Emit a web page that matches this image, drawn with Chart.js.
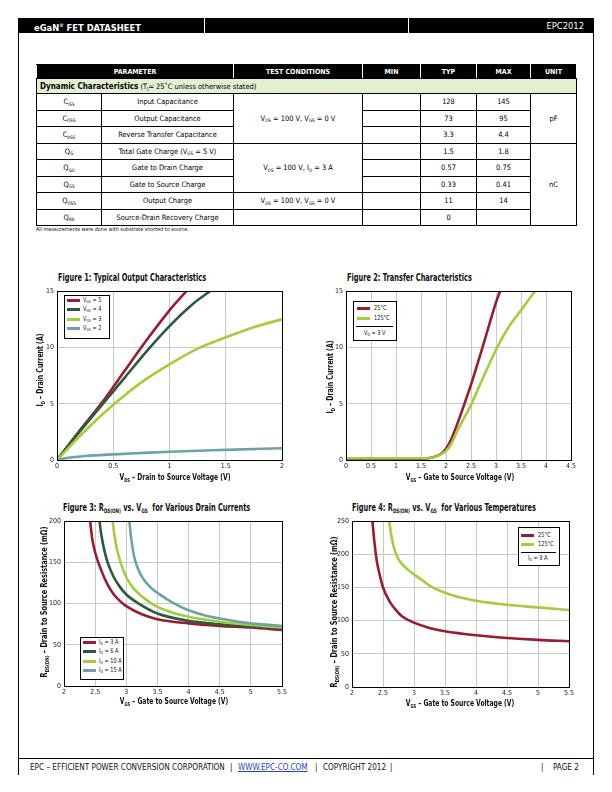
<!DOCTYPE html>
<html><head><meta charset="utf-8">
<script src="https://cdn.jsdelivr.net/npm/chart.js@4.4.1/dist/chart.umd.min.js"></script>
<style>
body{margin:0;width:612px;height:792px;position:relative;background:#fff;overflow:hidden;
 font-family:"Liberation Sans Narrow","DejaVu Sans Condensed","Arial Narrow",sans-serif;color:#111;
 -webkit-font-smoothing:antialiased}
.a{position:absolute;white-space:nowrap}
sub{font-size:62%;vertical-align:baseline;position:relative;top:0.3em}
canvas{position:absolute}
table{position:absolute;left:36px;top:64px;border-collapse:collapse;table-layout:fixed;width:540px;font-size:7.4px;color:#000}
td,th{border:0.8px solid #000;text-align:center;padding:0;overflow:hidden;white-space:nowrap;color:#000}
th{background:#000;color:#fff;font-weight:bold;font-size:7px;height:13px;border-left:1px solid #fff;border-right:1px solid #fff;border-top:0.8px solid #000;border-bottom:0.8px solid #000}
tr.g td{background:#e4eed3;text-align:left;padding-left:3px;height:14px}
tr.r td{height:15.5px}
.ft{font-weight:bold;font-size:9.8px;transform-origin:left center;transform:scaleX(0.75)}
.ax{font-weight:bold;font-size:8.6px}
.lg{position:absolute;border:1px solid #000;background:#fff}
.lr{position:absolute;font-size:6.8px;line-height:8px;white-space:nowrap;transform-origin:left center;transform:scaleX(0.82)}
.sw{position:absolute;height:3px}
.fo{position:absolute;top:762px;font-size:8.1px;line-height:11px;white-space:nowrap}
</style></head><body>

<!-- header -->
<div class="a" style="left:18px;top:18px;width:576px;height:15px;background:#000"></div>
<div class="a" style="left:204px;top:18px;width:1px;height:15px;background:#fff"></div>
<div class="a" style="left:408px;top:18px;width:1px;height:15px;background:#fff"></div>
<div class="a" style="left:34px;top:19px;line-height:13px;color:#fff;font-weight:bold;font-size:9.3px">eGaN<sup style="font-size:5px">®</sup> FET DATASHEET</div>
<div class="a" style="right:28px;top:19px;line-height:13px;color:#fff;font-size:9.3px">EPC2012</div>
<div class="a" style="left:18px;top:33px;width:1px;height:742px;background:#000"></div>
<div class="a" style="left:593px;top:33px;width:1px;height:742px;background:#000"></div>

<!-- table -->
<table>
<colgroup><col style="width:65px"><col style="width:132px"><col style="width:129px"><col style="width:58px"><col style="width:56px"><col style="width:54px"><col style="width:46px"></colgroup>
<tr><th colspan="2">PARAMETER</th><th>TEST CONDITIONS</th><th>MIN</th><th>TYP</th><th>MAX</th><th>UNIT</th></tr>
<tr class="g"><td colspan="7"><b style="font-size:8px">Dynamic Characteristics</b> (T<sub>J</sub>= 25˚C unless otherwise stated)</td></tr>
<tr class="r"><td>C<sub>ISS</sub></td><td>Input Capacitance</td><td rowspan="3">V<sub>DS</sub> = 100 V, V<sub>GS</sub> = 0 V</td><td></td><td>128</td><td>145</td><td rowspan="3">pF</td></tr>
<tr class="r"><td>C<sub>OSS</sub></td><td>Output Capacitance</td><td></td><td>73</td><td>95</td></tr>
<tr class="r"><td>C<sub>RSS</sub></td><td>Reverse Transfer Capacitance</td><td></td><td>3.3</td><td>4.4</td></tr>
<tr class="r"><td>Q<sub>G</sub></td><td>Total Gate Charge (V<sub>GS</sub> = 5 V)</td><td rowspan="3">V<sub>DS</sub> = 100 V, I<sub>D</sub> = 3 A</td><td></td><td>1.5</td><td>1.8</td><td rowspan="5">nC</td></tr>
<tr class="r"><td>Q<sub>GD</sub></td><td>Gate to Drain Charge</td><td></td><td>0.57</td><td>0.75</td></tr>
<tr class="r"><td>Q<sub>GS</sub></td><td>Gate to Source Charge</td><td></td><td>0.33</td><td>0.41</td></tr>
<tr class="r"><td>Q<sub>OSS</sub></td><td>Output Charge</td><td>V<sub>DS</sub> = 100 V, V<sub>GS</sub> = 0 V</td><td></td><td>11</td><td>14</td></tr>
<tr class="r"><td>Q<sub>RR</sub></td><td>Source-Drain Recovery Charge</td><td></td><td></td><td>0</td><td></td></tr>
</table>
<div class="a" style="left:36px;top:226px;font-size:5.4px;line-height:7px">All measurements were done with substrate shorted to source.</div>

<!-- figure titles -->
<div class="a ft" style="left:58px;top:272px">Figure 1: Typical Output Characteristics</div>
<div class="a ft" style="left:347px;top:272px">Figure 2: Transfer Characteristics</div>
<div class="a ft" style="left:63px;top:502px">Figure 3: R<sub>DS(ON)</sub> vs. V<sub>GS</sub>&nbsp; for Various Drain Currents</div>
<div class="a ft" style="left:352px;top:502px">Figure 4: R<sub>DS(ON)</sub> vs. V<sub>GS</sub>&nbsp; for Various Temperatures</div>

<canvas id="c1"></canvas><canvas id="c2"></canvas><canvas id="c3"></canvas><canvas id="c4"></canvas>

<!-- axis titles -->
<div class="a ax" style="left:40px;top:370px;transform:translate(-50%,-50%) rotate(-90deg) scaleX(0.8)">I<sub>D</sub> – Drain Current (A)</div>
<div class="a ax" style="left:175px;top:477px;transform:translate(-50%,-50%) scaleX(0.78)">V<sub>DS</sub> – Drain to Source Voltage (V)</div>
<div class="a ax" style="left:330px;top:377px;transform:translate(-50%,-50%) rotate(-90deg) scaleX(0.8)">I<sub>D</sub> – Drain Current (A)</div>
<div class="a ax" style="left:460px;top:477px;transform:translate(-50%,-50%) scaleX(0.78)">V<sub>GS</sub> – Gate to Source Voltage (V)</div>
<div class="a ax" style="left:44px;top:602px;transform:translate(-50%,-50%) rotate(-90deg) scaleX(0.85)">R<sub>DS(ON)</sub> – Drain to Source Resistance (mΩ)</div>
<div class="a ax" style="left:174px;top:701px;transform:translate(-50%,-50%) scaleX(0.78)">V<sub>GS</sub> – Gate to Source Voltage (V)</div>
<div class="a ax" style="left:334px;top:612px;transform:translate(-50%,-50%) rotate(-90deg) scaleX(0.85)">R<sub>DS(ON)</sub> – Drain to Source Resistance (mΩ)</div>
<div class="a ax" style="left:460px;top:703px;transform:translate(-50%,-50%) scaleX(0.78)">V<sub>GS</sub> – Gate to Source Voltage (V)</div>

<!-- legends -->
<div class="lg" style="left:64px;top:295px;width:44px;height:42px"></div>
<div class="sw" style="left:67px;top:299px;width:13px;background:#9b1b30"></div><div class="lr" style="left:83px;top:296px">V<sub>GS</sub> = 5</div>
<div class="sw" style="left:67px;top:308px;width:13px;background:#2c5a3e"></div><div class="lr" style="left:83px;top:305px">V<sub>GS</sub> = 4</div>
<div class="sw" style="left:67px;top:318px;width:13px;background:#a5cd3a"></div><div class="lr" style="left:83px;top:315px">V<sub>GS</sub> = 3</div>
<div class="sw" style="left:67px;top:327px;width:13px;background:#6ea2a8"></div><div class="lr" style="left:83px;top:324px">V<sub>GS</sub> = 2</div>

<div class="lg" style="left:353px;top:301px;width:42px;height:38px"></div>
<div class="sw" style="left:357px;top:307px;width:13px;background:#9b1b30"></div><div class="lr" style="left:374px;top:304px">25°C</div>
<div class="sw" style="left:357px;top:317px;width:13px;background:#a5cd3a"></div><div class="lr" style="left:374px;top:314px">125°C</div>
<div class="a" style="left:356px;top:326px;width:37px;height:1px;background:#000"></div>
<div class="lr" style="left:364px;top:329px">V<sub>D</sub> = 3 V</div>

<div class="lg" style="left:80px;top:637px;width:42px;height:41px"></div>
<div class="sw" style="left:83px;top:641px;width:13px;background:#9b1b30"></div><div class="lr" style="left:99px;top:638px">I<sub>D</sub> = 3 A</div>
<div class="sw" style="left:83px;top:650px;width:13px;background:#2c5a3e"></div><div class="lr" style="left:99px;top:647px">I<sub>D</sub> = 6 A</div>
<div class="sw" style="left:83px;top:660px;width:13px;background:#a5cd3a"></div><div class="lr" style="left:99px;top:657px">I<sub>D</sub> = 10 A</div>
<div class="sw" style="left:83px;top:669px;width:13px;background:#6ea2a8"></div><div class="lr" style="left:99px;top:666px">I<sub>D</sub> = 15 A</div>

<div class="lg" style="left:518px;top:527px;width:40px;height:37px"></div>
<div class="sw" style="left:521px;top:534px;width:13px;background:#9b1b30"></div><div class="lr" style="left:538px;top:531px">25°C</div>
<div class="sw" style="left:521px;top:543px;width:13px;background:#a5cd3a"></div><div class="lr" style="left:538px;top:540px">125°C</div>
<div class="a" style="left:521px;top:552px;width:35px;height:1px;background:#000"></div>
<div class="lr" style="left:528px;top:554px">I<sub>D</sub> = 3 A</div>

<!-- footer -->
<div class="a" style="left:18px;top:758px;width:576px;height:1px;background:#000"></div>
<div class="fo" style="left:30px">EPC – EFFICIENT POWER CONVERSION CORPORATION</div>
<div class="fo" style="left:230px">|</div>
<div class="fo" style="left:238px;color:#2b3fbf;text-decoration:underline">WWW.EPC-CO.COM</div>
<div class="fo" style="left:315px">|</div>
<div class="fo" style="left:323px">COPYRIGHT 2012</div>
<div class="fo" style="left:390px">|</div>
<div class="fo" style="left:541px">|</div>
<div class="fo" style="left:553px">PAGE 2</div>

<script>
// ---------- Figure 1: Typical Output Characteristics (ID vs VDS) ----------
const fig1_xTicks = [0, 0.5, 1, 1.5, 2];
const fig1_yTicks = [0, 5, 10, 15];
const fig1_vgs5_vds = [0, 0.2, 0.4, 0.6, 0.8, 1.0, 1.15];
const fig1_vgs5_id  = [0, 2.6, 5.1, 7.9, 10.7, 13.3, 15];
const fig1_vgs4_vds = [0, 0.2, 0.4, 0.6, 0.8, 1.0, 1.2, 1.36];
const fig1_vgs4_id  = [0, 2.5, 4.9, 7.3, 9.7, 11.9, 13.8, 15];
const fig1_vgs3_vds = [0, 0.25, 0.5, 0.75, 1.0, 1.25, 1.5, 1.75, 2.0];
const fig1_vgs3_id  = [0, 2.6, 4.9, 6.9, 8.5, 9.9, 10.9, 11.8, 12.5];
const fig1_vgs2_vds = [0, 0.1, 0.25, 0.5, 0.75, 1.0, 1.5, 2.0];
const fig1_vgs2_id  = [0, 0.2, 0.35, 0.5, 0.62, 0.73, 0.9, 1.05];

// ---------- Figure 2: Transfer Characteristics (ID vs VGS) ----------
const fig2_xTicks = [0, 0.5, 1, 1.5, 2, 2.5, 3, 3.5, 4, 4.5];
const fig2_yTicks = [0, 5, 10, 15];
const fig2_t25_vgs  = [0, 0.5, 1.0, 1.5, 1.75, 1.9, 2.0, 2.1, 2.25, 2.4, 2.5, 2.75, 3.0, 3.08];
const fig2_t25_id   = [0.1, 0.1, 0.1, 0.12, 0.25, 0.55, 1.0, 1.8, 3.5, 5.4, 6.7, 10.3, 14.0, 15];
const fig2_t125_vgs = [0, 0.5, 1.0, 1.5, 1.8, 2.0, 2.1, 2.25, 2.5, 2.75, 3.0, 3.25, 3.5, 3.78];
const fig2_t125_id  = [0.15, 0.15, 0.15, 0.15, 0.3, 0.8, 1.4, 2.8, 4.9, 7.4, 9.8, 11.8, 13.3, 15];

// ---------- Figure 3: RDS(ON) vs VGS for various drain currents ----------
const fig3_xTicks = [2, 2.5, 3, 3.5, 4, 4.5, 5, 5.5];
const fig3_yTicks = [0, 50, 100, 150, 200];
const fig3_id3_vgs  = [2.42, 2.45, 2.5, 2.6, 2.7, 2.8, 2.9, 3.0, 3.25, 3.5, 4.0, 4.5, 5.0, 5.5];
const fig3_id3_r    = [200, 180, 162, 140, 123, 111, 103, 97, 87, 81, 76, 73, 71, 68];
const fig3_id6_vgs  = [2.57, 2.6, 2.65, 2.7, 2.8, 2.9, 3.0, 3.2, 3.5, 4.0, 4.5, 5.0, 5.5];
const fig3_id6_r    = [200, 183, 164, 150, 132, 120, 111, 100, 88, 79, 75, 72, 70];
const fig3_id10_vgs = [2.78, 2.81, 2.85, 2.9, 2.95, 3.0, 3.1, 3.2, 3.35, 3.5, 3.75, 4.0, 4.5, 5.0, 5.5];
const fig3_id10_r   = [200, 183, 166, 152, 141, 132, 120, 112, 103, 96, 89, 84, 78, 74, 71];
const fig3_id15_vgs = [3.05, 3.07, 3.1, 3.13, 3.17, 3.22, 3.3, 3.4, 3.5, 3.75, 4.0, 4.25, 4.5, 5.0, 5.5];
const fig3_id15_r   = [200, 185, 168, 156, 146, 137, 127, 119, 113, 101, 92, 86, 82, 76, 73];

// ---------- Figure 4: RDS(ON) vs VGS for various temperatures ----------
const fig4_xTicks = [2, 2.5, 3, 3.5, 4, 4.5, 5, 5.5];
const fig4_yTicks = [0, 50, 100, 150, 200, 250];
const fig4_t25_vgs  = [2.33, 2.36, 2.4, 2.45, 2.5, 2.6, 2.7, 2.8, 3.0, 3.25, 3.5, 4.0, 4.5, 5.0, 5.5];
const fig4_t25_r    = [250, 220, 190, 168, 150, 130, 117, 107, 97, 89, 84, 78, 74, 71, 69];
const fig4_t125_vgs = [2.6, 2.63, 2.66, 2.7, 2.75, 2.8, 2.9, 3.0, 3.15, 3.25, 3.5, 3.75, 4.0, 4.5, 5.0, 5.5];
const fig4_t125_r   = [250, 231, 216, 203, 193, 186, 177, 170, 160, 153, 142, 135, 130, 124, 120, 116];

const RED = '#9b1b30', DKGREEN = '#2c5a3e', LIME = '#a5cd3a', TEAL = '#6ea2a8';
const FONT = '"Liberation Sans Narrow","DejaVu Sans Condensed","Arial Narrow",sans-serif';

function pts(xs, ys) { return xs.map((x, i) => ({ x: x, y: ys[i] })); }
function ds(xs, ys, color) {
  return { data: pts(xs, ys), borderColor: color, backgroundColor: color, borderWidth: 2.6,
           showLine: true, pointRadius: 0, fill: false, cubicInterpolationMode: 'monotone' };
}
const boxPlugin = { id: 'box', afterDraw(c) {
  const a = c.chartArea, g = c.ctx; g.save(); g.strokeStyle = '#000'; g.lineWidth = 1;
  g.strokeRect(Math.round(a.left) + 0.5, Math.round(a.top) + 0.5, Math.round(a.right - a.left), Math.round(a.bottom - a.top));
  g.restore(); } };

function mk(id, area, xt, yt, datasets) {
  const L = 30, T = 6, R = 10, B = 14;
  const cv = document.getElementById(id);
  cv.style.left = (area.l - L) + 'px'; cv.style.top = (area.t - T) + 'px';
  cv.width = area.r - area.l + L + R; cv.height = area.b - area.t + T + B;
  const fmt = v => String(+(+v).toFixed(2));
  new Chart(cv, { type: 'scatter', data: { datasets: datasets },
    options: { responsive: false, animation: false, devicePixelRatio: 1,
      layout: { padding: { left: 0, top: T, right: R, bottom: 0 } },
      plugins: { legend: { display: false }, tooltip: { enabled: false } },
      scales: {
        x: { type: 'linear', min: xt[0], max: xt[xt.length - 1],
             afterBuildTicks: s => { s.ticks = xt.map(v => ({ value: v })); },
             ticks: { padding: 2, autoSkip: false, maxRotation: 0, color: '#222', font: { family: FONT, size: 7 }, callback: fmt },
             grid: { color: '#c9c9c9', lineWidth: 1, drawTicks: false }, border: { display: false },
             afterFit: s => { s.height = B; } },
        y: { type: 'linear', min: yt[0], max: yt[yt.length - 1],
             afterBuildTicks: s => { s.ticks = yt.map(v => ({ value: v })); },
             ticks: { padding: 3, autoSkip: false, color: '#222', font: { family: FONT, size: 7 }, callback: fmt },
             grid: { color: '#c9c9c9', lineWidth: 1, drawTicks: false }, border: { display: false },
             afterFit: s => { s.width = L; } }
      } },
    plugins: [boxPlugin] });
}

mk('c1', { l: 57, t: 290, r: 282, b: 460 }, fig1_xTicks, fig1_yTicks, [
  ds(fig1_vgs2_vds, fig1_vgs2_id, TEAL),
  ds(fig1_vgs3_vds, fig1_vgs3_id, LIME),
  ds(fig1_vgs4_vds, fig1_vgs4_id, DKGREEN),
  ds(fig1_vgs5_vds, fig1_vgs5_id, RED)
]);
mk('c2', { l: 346, t: 290, r: 571, b: 460 }, fig2_xTicks, fig2_yTicks, [
  ds(fig2_t125_vgs, fig2_t125_id, LIME),
  ds(fig2_t25_vgs, fig2_t25_id, RED)
]);
mk('c3', { l: 64, t: 520, r: 282, b: 686 }, fig3_xTicks, fig3_yTicks, [
  ds(fig3_id15_vgs, fig3_id15_r, TEAL),
  ds(fig3_id10_vgs, fig3_id10_r, LIME),
  ds(fig3_id6_vgs, fig3_id6_r, DKGREEN),
  ds(fig3_id3_vgs, fig3_id3_r, RED)
]);
mk('c4', { l: 352, t: 520, r: 569, b: 687 }, fig4_xTicks, fig4_yTicks, [
  ds(fig4_t125_vgs, fig4_t125_r, LIME),
  ds(fig4_t25_vgs, fig4_t25_r, RED)
]);
</script>
</body></html>
